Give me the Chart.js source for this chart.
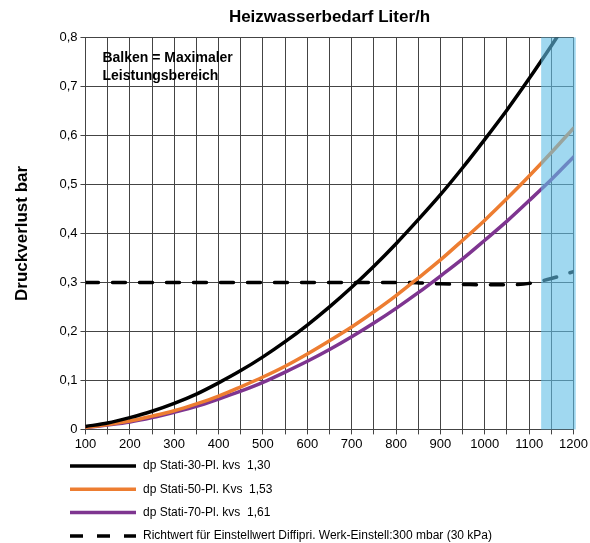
<!DOCTYPE html>
<html>
<head>
<meta charset="utf-8">
<script src="https://cdn.jsdelivr.net/npm/chart.js@4"></script>
<style>
  html, body { margin: 0; padding: 0; background: #fff; }
  #wrap { width: 590px; height: 543px; }
</style>
</head>
<body>
<div id="wrap"><canvas id="chart"></canvas></div>
<script>
// Heizwasserbedarf (l/h)
var flowRates = [100, 150, 200, 250, 300, 350, 400, 450, 500, 550, 600, 650, 700, 750, 800, 850, 900, 950, 1000, 1050, 1100, 1150, 1200];
// Druckverlust (bar)
var dpStati30 = [0.006, 0.013, 0.024, 0.037, 0.053, 0.072, 0.095, 0.120, 0.148, 0.179, 0.213, 0.250, 0.290, 0.333, 0.379, 0.428, 0.479, 0.534, 0.592, 0.652, 0.716, 0.783, 0.852];
var dpStati50 = [0.004, 0.010, 0.017, 0.027, 0.038, 0.052, 0.068, 0.087, 0.107, 0.129, 0.154, 0.181, 0.209, 0.240, 0.273, 0.309, 0.346, 0.386, 0.427, 0.471, 0.517, 0.565, 0.615];
var dpStati70 = [0.004, 0.009, 0.015, 0.024, 0.035, 0.047, 0.062, 0.078, 0.096, 0.117, 0.139, 0.163, 0.189, 0.217, 0.247, 0.279, 0.313, 0.348, 0.386, 0.425, 0.467, 0.510, 0.556];
var richtwert = [0.300, 0.300, 0.300, 0.300, 0.300, 0.300, 0.300, 0.300, 0.300, 0.300, 0.300, 0.300, 0.300, 0.300, 0.300, 0.299, 0.297, 0.296, 0.295, 0.295, 0.298, 0.308, 0.322];

var seriesLabels = [
    'dp Stati-30-Pl. kvs  1,30',
    'dp Stati-50-Pl. Kvs  1,53',
    'dp Stati-70-Pl. kvs  1,61',
    'Richtwert für Einstellwert Diffipri. Werk-Einstell:300 mbar (30 kPa)'
];
var bandStart = 1127;   // Balken = maximaler Leistungsbereich
var bandEnd = 1205;

function points(ys) {
    return flowRates.map(function (x, i) { return { x: x, y: ys[i] }; });
}

var FONT = 'Liberation Sans, Arial, sans-serif';

// blue band drawn over the lines
var bandPlugin = {
    id: 'band',
    afterDatasetsDraw: function (chart) {
        var ctx = chart.ctx, xs = chart.scales.x, ys = chart.scales.y;
        var x1 = xs.getPixelForValue(bandStart), x2 = xs.getPixelForValue(bandEnd);
        var y1 = ys.getPixelForValue(0.8), y2 = ys.getPixelForValue(0);
        ctx.save();
        ctx.fillStyle = 'rgba(97,190,230,0.6)';
        ctx.fillRect(x1, y1, x2 - x1, y2 - y1);
        ctx.restore();
    }
};

// text note + legend rows at the bottom
var notePlugin = {
    id: 'note',
    afterDraw: function (chart) {
        var ctx = chart.ctx, area = chart.chartArea;
        ctx.save();
        ctx.fillStyle = '#000';
        ctx.font = 'bold 14px ' + FONT;
        ctx.textBaseline = 'middle';
        ctx.fillText('Balken = Maximaler', area.left + 17, area.top + 21);
        ctx.fillText('Leistungsbereich', area.left + 17, area.top + 39);

        ctx.font = '12px ' + FONT;
        chart.data.datasets.forEach(function (ds, i) {
            var y = 466 + i * 23.3;
            ctx.beginPath();
            ctx.strokeStyle = ds.borderColor;
            ctx.lineWidth = ds.borderWidth;
            ctx.setLineDash(ds.borderDash || []);
            ctx.moveTo(70, y);
            ctx.lineTo(136, y);
            ctx.stroke();
            ctx.setLineDash([]);
            ctx.fillText(ds.label, 143, y);
        });
        ctx.restore();
    }
};

var ctx = document.getElementById('chart').getContext('2d');
var chart = new Chart(ctx, {
    type: 'line',
    data: {
        datasets: [{
            label: seriesLabels[0],
            data: points(dpStati30),
            borderColor: '#000000',
            borderWidth: 3.5
        }, {
            label: seriesLabels[1],
            data: points(dpStati50),
            borderColor: '#ED7D31',
            borderWidth: 3.5
        }, {
            label: seriesLabels[2],
            data: points(dpStati70),
            borderColor: '#7E3590',
            borderWidth: 3.5
        }, {
            label: seriesLabels[3],
            data: points(richtwert),
            borderColor: '#000000',
            borderWidth: 3.5,
            borderDash: [13, 14]
        }]
    },
    options: {
        responsive: true,
        maintainAspectRatio: false,
        animation: false,
        elements: {
            point: { radius: 0 },
            line: { cubicInterpolationMode: 'monotone', fill: false, borderCapStyle: 'round' }
        },
        layout: { padding: { left: 12, right: 13, top: 7, bottom: 89 } },
        plugins: {
            legend: { display: false },
            tooltip: { enabled: false },
            title: {
                display: true,
                fullSize: false,
                text: 'Heizwasserbedarf Liter/h',
                color: '#000',
                font: { family: FONT, size: 17, weight: 'bold' },
                padding: { top: 0, bottom: 10 }
            }
        },
        scales: {
            x: {
                type: 'linear',
                min: 100,
                max: 1200,
                ticks: {
                    stepSize: 50,
                    autoSkip: false,
                    maxRotation: 0,
                    color: '#000',
                    font: { family: FONT, size: 13 },
                    padding: 2,
                    callback: function (v) { return v % 100 === 0 ? String(v) : ''; }
                },
                grid: { color: '#444', lineWidth: 1, tickLength: 5 },
                border: { color: '#444', width: 1 }
            },
            y: {
                min: 0,
                max: 0.8,
                ticks: {
                    stepSize: 0.1,
                    color: '#000',
                    font: { family: FONT, size: 13 },
                    padding: 3,
                    callback: function (v) {
                        return v === 0 ? '0' : v.toFixed(1).replace('.', ',');
                    }
                },
                title: {
                    display: true,
                    text: 'Druckverlust bar',
                    color: '#000',
                    font: { family: FONT, size: 17, weight: 'bold' },
                    padding: { top: 0, bottom: 24 }
                },
                grid: { color: '#444', lineWidth: 1, tickLength: 5 },
                border: { color: '#444', width: 1 }
            }
        }
    },
    plugins: [bandPlugin, notePlugin]
});
</script>
</body>
</html>
